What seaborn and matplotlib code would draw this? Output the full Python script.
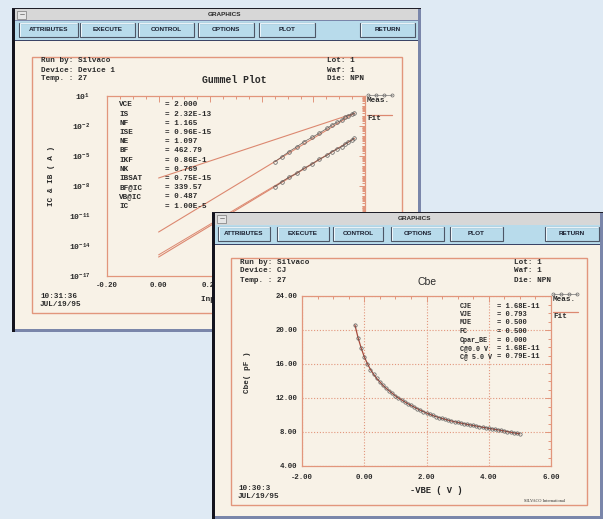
import matplotlib
matplotlib.use("Agg")
import matplotlib.pyplot as plt
from matplotlib.patches import Rectangle
from matplotlib.ticker import MultipleLocator, FixedLocator, LogLocator, NullFormatter
import numpy as np
import seaborn as sns

# ---------------- data ----------------
# Gummel plot: measured collector / base currents vs VBE
vbe_meas = [0.451, 0.478, 0.505, 0.536, 0.564, 0.595, 0.622, 0.653,
            0.672, 0.691, 0.711, 0.722, 0.734, 0.750, 0.757]
ic_meas = [2.7e-6, 8.5e-6, 2.7e-5, 8.5e-5, 2.7e-4, 7.4e-4, 1.86e-3, 5.9e-3,
           1.26e-2, 2.3e-2, 4.0e-2, 7.4e-2, 1.07e-1, 1.58e-1, 1.86e-1]
ib_meas = [8.5e-9, 2.7e-8, 7.4e-8, 1.86e-7, 5.9e-7, 1.58e-6, 4.7e-6, 1.17e-5,
           2.7e-5, 5.0e-5, 8.5e-5, 1.48e-4, 2.34e-4, 4.0e-4, 5.9e-4]
# Gummel plot: fitted model curves
vbe_fit = [0.0, 0.76]
fit_upper = [6.3e-8, 1.9e-1]
fit_ic = [2.5e-13, 1.9e-1]
fit_ib = [7.9e-16, 5.9e-4]
fit_ib2 = [1.3e-15, 5.9e-4]

gummel_names = ["VCE", "IS", "NF", "ISE", "NE", "BF", "IKF", "NK",
                "IBSAT", "BF@IC", "VB@IC", "IC"]
gummel_values = ["= 2.000", "= 2.32E-13", "= 1.165", "= 0.96E-15", "= 1.097",
                 "= 462.79", "= 0.86E-1", "= 0.769", "= 0.75E-15", "= 339.57",
                 "= 0.487", "= 1.00E-5"]
gummel_xticks = [-0.2, 0.0, 0.2, 0.4, 0.6, 0.8]
gummel_xlabels = ["-0.20", "0.00", "0.20", "0.40", "0.60", "0.80"]
gummel_yticks = [1e1, 1e-2, 1e-5, 1e-8, 1e-11, 1e-14, 1e-17]

# Cbe: base-emitter capacitance vs reverse bias
vbe_rev = [-0.3, -0.2, -0.1, 0.0, 0.1, 0.2, 0.3, 0.4, 0.5, 0.6, 0.7, 0.8, 0.9,
           1.0, 1.1, 1.2, 1.3, 1.4, 1.5, 1.6, 1.7, 1.8, 1.9, 2.0, 2.1, 2.2,
           2.3, 2.4, 2.5, 2.6, 2.7, 2.8, 2.9, 3.0, 3.1, 3.2, 3.3, 3.4, 3.5,
           3.6, 3.7, 3.8, 3.9, 4.0, 4.1, 4.2, 4.3, 4.4, 4.5, 4.6, 4.7, 4.8,
           4.9, 5.0]
cbe_meas = [20.6, 19.1, 17.9, 16.85, 16.05, 15.35, 14.8, 14.3, 13.9, 13.5,
            13.15, 12.85, 12.55, 12.25, 12.0, 11.78, 11.55, 11.33, 11.13,
            10.94, 10.75, 10.57, 10.4, 10.24, 10.09, 9.95, 9.82, 9.70, 9.59,
            9.49, 9.39, 9.30, 9.21, 9.13, 9.05, 8.98, 8.90, 8.83, 8.77, 8.70,
            8.63, 8.56, 8.50, 8.43, 8.37, 8.31, 8.25, 8.19, 8.12, 8.05, 7.98,
            7.90, 7.84, 7.78]
cbe_names = ["CJE", "VJE", "MJE", "FC", "Cpar_BE", "C@0.0 V", "C@ 5.0 V"]
cbe_values = ["= 1.68E-11", "= 0.793", "= 0.500", "= 0.500", "= 0.000",
              "= 1.68E-11", "= 0.79E-11"]
cbe_xticks = [-2, 0, 2, 4, 6]
cbe_xlabels = ["-2.00", "0.00", "2.00", "4.00", "6.00"]
cbe_yticks = [4, 8, 12, 16, 20, 24]
cbe_ylabels = ["4.00", "8.00", "12.00", "16.00", "20.00", "24.00"]

buttons = ["ATTRIBUTES", "EXECUTE", "CONTROL", "OPTIONS", "PLOT", "RETURN"]
win1_btn_x = [(19, 78), (80, 135), (138, 194), (198, 254), (259, 315), (360, 415)]
win2_btn_x = [(218, 270), (277, 329), (333, 383), (391, 444), (450, 503), (545, 599)]

# ---------------- style ----------------
sns.set_style("white")
MONO = ["Liberation Mono", "DejaVu Sans Mono"]
SANS = ["Liberation Sans", "DejaVu Sans"]
plt.rcParams["font.family"] = MONO
plt.rcParams["font.weight"] = "bold"
plt.rcParams["mathtext.default"] = "regular"

BG = "#dfeaf4"
CREAM = "#f8f2e7"
BAR = "#b8dbeb"
TITLEBAR = "#d7d7d7"
SALMON = "#e2967c"
LINE = "#dc8870"
DARKTXT = "#2a2a2a"

W, H = 603, 519
fig = plt.figure(figsize=(W / 100, H / 100), dpi=100)
fig.patch.set_facecolor(BG)


def overlay(z):
    ax = fig.add_axes([0, 0, 1, 1])
    ax.set_xlim(0, W)
    ax.set_ylim(H, 0)
    ax.axis("off")
    ax.patch.set_alpha(0)
    ax.set_zorder(z)
    return ax


def px_axes(x0, y0, x1, y1, z):
    ax = fig.add_axes([x0 / W, 1 - y1 / H, (x1 - x0) / W, (y1 - y0) / H])
    ax.set_zorder(z)
    ax.patch.set_alpha(0)
    return ax


def txt(ax, x, y, s, size=5.5, ha="left", family=MONO, weight="bold", **kw):
    ax.text(x, y, s, fontsize=size, ha=ha, va="center", family=family,
            weight=weight, color=kw.pop("color", DARKTXT), **kw)


def draw_window(ax, x0, y0, x1, y1, title_x, btn_x):
    ax.add_patch(Rectangle((x0, y0), x1 - x0, y1 - y0, fc="#7a86aa", ec="none"))
    ax.add_patch(Rectangle((x0, y0), 3, y1 - y0, fc="#14141e", ec="none"))
    ax.add_patch(Rectangle((x0, y0), x1 - x0, 1.2, fc="#1e1e28", ec="none"))
    ax.add_patch(Rectangle((x0 + 3, y0 + 1.2), x1 - x0 - 6, 11.3, fc=TITLEBAR, ec="none"))
    ax.add_patch(Rectangle((x0 + 5, y0 + 2.5), 9, 8, fc="#e6e6e6", ec="#8a8a8a", lw=0.6))
    ax.plot([x0 + 7.5, x0 + 11.5], [y0 + 5.5, y0 + 5.5], color="#777", lw=0.6)
    txt(ax, title_x, y0 + 6.6, "GRAPHICS", size=4.6, ha="center", family=SANS)
    ax.add_patch(Rectangle((x0 + 3, y0 + 12.5), x1 - x0 - 6, 19, fc=BAR, ec="none"))
    for label, (bx0, bx1) in zip(buttons, btn_x):
        by0, by1 = y0 + 14.5, y0 + 28.5
        ax.add_patch(Rectangle((bx0, by0), bx1 - bx0, by1 - by0, fc=BAR,
                               ec="#4d5666", lw=0.8))
        ax.plot([bx0 + 0.8, bx0 + 0.8, bx1 - 0.8], [by1 - 0.8, by0 + 0.8, by0 + 0.8],
                color="#eef7fb", lw=0.7)
        txt(ax, (bx0 + bx1) / 2, (by0 + by1) / 2 + 0.3, label, size=4.6,
            ha="center", family=SANS, color="#1b2030")
    ax.add_patch(Rectangle((x0 + 3, y0 + 31.5), x1 - x0 - 6, 1.5, fc="#3b4466", ec="none"))
    ax.add_patch(Rectangle((x0 + 3, y0 + 33), x1 - x0 - 6, (y1 - 3) - (y0 + 33),
                           fc=CREAM, ec="none"))


def style_axes(ax):
    for sp in ax.spines.values():
        sp.set_color(SALMON)
        sp.set_linewidth(0.9)
    ax.tick_params(which="both", direction="in", colors=SALMON, top=True, right=True,
                   labelcolor=DARKTXT, labelsize=5.3, width=0.7)
    ax.tick_params(which="major", length=4)
    ax.tick_params(which="minor", length=2.5)
    ax.set_facecolor("none")


def legend_glyph(ax, x, y):
    ax.plot([x, x + 8, x + 16, x + 24], [y] * 4, color="#777", lw=0.5, marker="o",
            ms=2.2, mfc="none", mec="#666", mew=0.5)


# ---------------- window 1 : Gummel plot ----------------
bg = overlay(0)
bg.add_patch(Rectangle((0, 0), W, H, fc=BG, ec="none"))
draw_window(bg, 12, 8, 421, 332, 224, win1_btn_x)
bg.add_patch(Rectangle((32, 57), 370, 256, fc="none", ec=SALMON, lw=1.0))
for i, s in enumerate(["Run by: Silvaco", "Device: Device 1", "Temp. : 27"]):
    txt(bg, 41, 61 + 9 * i, s)
for i, s in enumerate(["Lot: 1", "Waf: 1", "Die: NPN"]):
    txt(bg, 327, 61 + 9 * i, s)
txt(bg, 234, 80, "Gummel Plot", size=7, ha="center")
txt(bg, 40, 296, "10:31:36")
txt(bg, 40, 305, "JUL/19/95")
legend_glyph(bg, 368, 94.5)
txt(bg, 367, 100, "Meas.")
bg.plot([367, 392], [115, 115], color=LINE, lw=0.9)
txt(bg, 367, 119, "Fit")

ax_g = px_axes(107, 96, 365, 276, 1)
ax_g.set_yscale("log")
for fy, lw in [(fit_upper, 0.8), (fit_ic, 0.8), (fit_ib, 0.8), (fit_ib2, 0.7)]:
    sns.lineplot(x=vbe_fit, y=fy, ax=ax_g, color=LINE, lw=lw,
                 estimator=None, sort=False)
for meas in (ic_meas, ib_meas):
    sns.lineplot(x=vbe_meas, y=meas, ax=ax_g, color="#6a5a55", lw=0.5,
                 estimator=None, sort=False, marker="o", markersize=2.6,
                 markerfacecolor="none", markeredgecolor="#5c5c5c",
                 markeredgewidth=0.5)
ax_g.set_xlim(-0.2, 0.8)
ax_g.set_ylim(1e-17, 1e1)
style_axes(ax_g)
ax_g.xaxis.set_major_locator(FixedLocator(gummel_xticks))
ax_g.set_xticklabels(gummel_xlabels)
ax_g.xaxis.set_minor_locator(MultipleLocator(0.05))
ax_g.yaxis.set_major_locator(FixedLocator(gummel_yticks))
ax_g.yaxis.set_minor_locator(LogLocator(base=10, subs=np.arange(1, 10), numticks=400))
ax_g.yaxis.set_minor_formatter(NullFormatter())
ax_g.tick_params(axis="y", pad=12, labelsize=5.8)
ax_g.tick_params(axis="x", pad=4)
ax_g.set_xlabel("Input VBE ( V )", fontsize=5.5, weight="bold")
ax_g.xaxis.set_label_coords(0.5, -0.11)
ax_g.set_ylabel("IC & IB ( A )", fontsize=5.5, weight="bold")
ax_g.yaxis.set_label_coords(-0.2, 0.556)

# parameter table drawn above the curves
ptab = overlay(1.5)
for i, (n, v) in enumerate(zip(gummel_names, gummel_values)):
    y = 105 + 9.2 * i
    txt(ptab, 119, y, n)
    txt(ptab, 165, y, v)

# ---------------- window 2 : Cbe ----------------
w2 = overlay(2)
draw_window(w2, 212, 212, 603, 519, 415, win2_btn_x)
w2.add_patch(Rectangle((231, 258), 356, 247, fc="none", ec=SALMON, lw=1.0))
for i, s in enumerate(["Run by: Silvaco", "Device: CJ", "Temp. : 27"]):
    txt(w2, 240, 262 + 9 * i, s)
for i, s in enumerate(["Lot: 1", "Waf: 1", "Die: NPN"]):
    txt(w2, 514, 262 + 9 * i, s)
txt(w2, 427, 282, "Cbe", size=7.5, ha="center", family=SANS, weight="normal")
txt(w2, 238, 488, "10:30:3")
txt(w2, 238, 497, "JUL/19/95")
txt(w2, 545, 501, "SILVACO International", size=3.2, ha="center",
    family=["Liberation Serif", "DejaVu Serif"], weight="normal")
legend_glyph(w2, 553, 293.5)
txt(w2, 553, 299.5, "Meas.")
w2.plot([553, 578], [312, 312], color=LINE, lw=0.9)
txt(w2, 553, 316.5, "Fit")

ax_c = px_axes(302, 296, 551, 466, 3)
ax_c.set_xlim(-2, 6)
ax_c.set_ylim(4, 24)
style_axes(ax_c)
ax_c.xaxis.set_major_locator(FixedLocator(cbe_xticks))
ax_c.set_xticklabels(cbe_xlabels)
ax_c.yaxis.set_major_locator(FixedLocator(cbe_yticks))
ax_c.set_yticklabels(cbe_ylabels)
ax_c.xaxis.set_minor_locator(MultipleLocator(0.5))
ax_c.yaxis.set_minor_locator(MultipleLocator(1))
ax_c.tick_params(axis="y", pad=3.5)
ax_c.tick_params(axis="x", pad=5.5)
ax_c.grid(True, which="major", color=SALMON, lw=0.8, linestyle=(0, (1, 1.6)))
sns.lineplot(x=vbe_rev, y=cbe_meas, ax=ax_c, color="#a84a3c", lw=0.9,
             estimator=None, sort=False)
sns.lineplot(x=vbe_rev, y=cbe_meas, ax=ax_c, color="none", lw=0,
             estimator=None, sort=False, marker="o", markersize=2.4,
             markerfacecolor="none", markeredgecolor="#5a5a5a",
             markeredgewidth=0.5)
ax_c.set_xlabel("-VBE ( V )", fontsize=6.3, weight="bold")
ax_c.xaxis.set_label_coords(0.538, -0.115)
ax_c.set_ylabel("Cbe( pF )", fontsize=5.5, weight="bold")
ax_c.yaxis.set_label_coords(-0.205, 0.553)

ptab2 = overlay(4)
for i, (n, v) in enumerate(zip(cbe_names, cbe_values)):
    y = 306 + 8.5 * i
    txt(ptab2, 460, y, n, size=4.9)
    txt(ptab2, 497, y, v, size=5.1)

fig.savefig("out.png", dpi=100, facecolor=BG)
